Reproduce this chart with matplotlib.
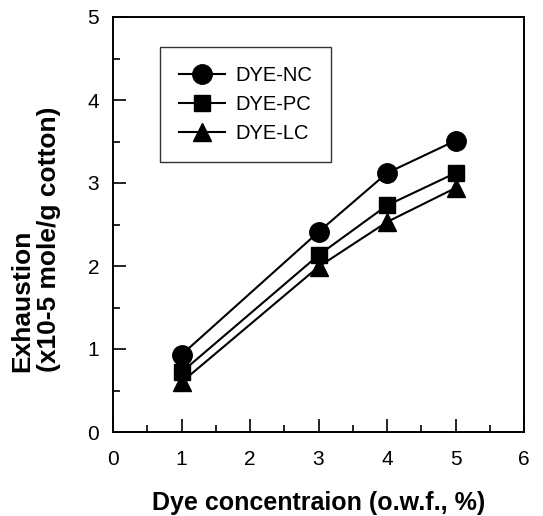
import matplotlib
matplotlib.use("Agg")
import matplotlib.pyplot as plt
from matplotlib.ticker import MultipleLocator

x = [1, 3, 4, 5]
nc = [0.93, 2.41, 3.12, 3.51]
pc = [0.72, 2.13, 2.73, 3.12]
lc = [0.60, 1.99, 2.53, 2.94]
labels = ["DYE-NC", "DYE-PC", "DYE-LC"]

plt.rcParams['font.family'] = ['Liberation Sans', 'DejaVu Sans']

fig = plt.figure(figsize=(5.43, 5.16), dpi=100)
ax = fig.add_axes([113/543, 1-432/516, (524-113)/543, (432-17)/516])

ax.plot(x, nc, '-o', color='black', lw=1.5, ms=14, label=labels[0])
ax.plot(x, pc, '-s', color='black', lw=1.5, ms=12, label=labels[1])
ax.plot(x, lc, '-^', color='black', lw=1.5, ms=13, label=labels[2])

ax.set_xlim(0, 6)
ax.set_ylim(0, 5)
ax.xaxis.set_major_locator(MultipleLocator(1))
ax.xaxis.set_minor_locator(MultipleLocator(0.5))
ax.yaxis.set_major_locator(MultipleLocator(1))
ax.yaxis.set_minor_locator(MultipleLocator(0.5))
ax.tick_params(which='both', direction='in', top=False, right=False, width=1.2, labelsize=15)
ax.tick_params(which='major', length=9.5)
ax.tick_params(axis='x', which='major', pad=13)
ax.tick_params(axis='y', which='major', pad=10)
ax.tick_params(which='minor', length=5)
for s in ax.spines.values():
    s.set_linewidth(1.4)

ax.set_xlabel("Dye concentraion (o.w.f., %)", fontsize=18, fontweight='bold')
ax.xaxis.set_label_coords(0.5, -0.142)

fig.text(36/543, (516-372)/516, "Exhaustion\n(x10-5 mole/g cotton)", fontsize=19,
         fontweight='bold', rotation=90, ha='center', va='bottom',
         multialignment='left', linespacing=1.15)

leg = ax.legend(loc='upper left', bbox_to_anchor=(0.114, 0.928), fontsize=14.5,
                frameon=True, fancybox=False, edgecolor='black', handlelength=2.3,
                labelspacing=0.5, borderpad=0.95, handletextpad=0.5,
                borderaxespad=0)
leg.get_frame().set_linewidth(1.0)

fig.savefig("out.png", dpi=100)
